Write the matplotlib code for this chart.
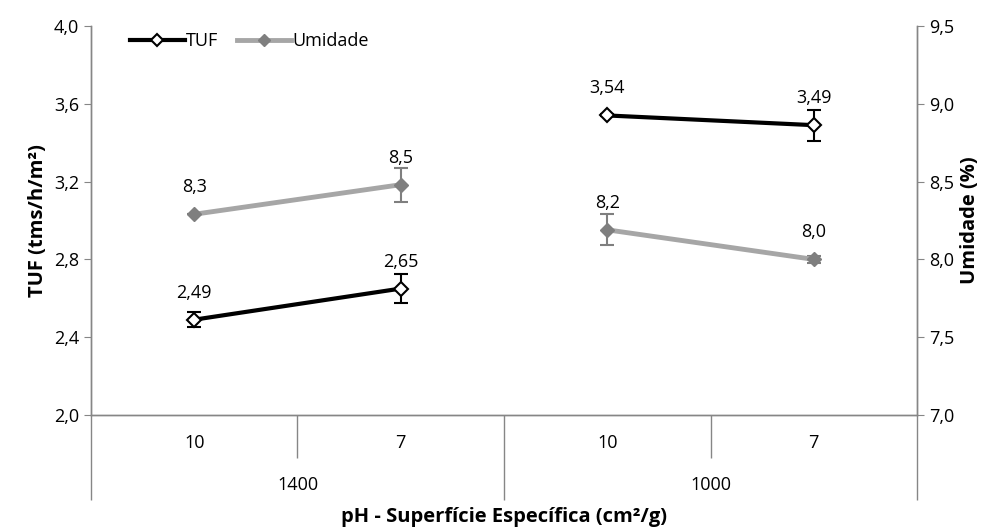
import matplotlib
matplotlib.use('Agg')
import matplotlib.pyplot as plt
from matplotlib.lines import Line2D
from matplotlib.ticker import FuncFormatter, FixedLocator
import matplotlib.transforms as mtransforms

# data
ph = ['10', '7', '10', '7']
superficie = ['1400', '1000']
tuf = [2.49, 2.65, 3.54, 3.49]
tuf_err = [0.04, 0.075, 0.005, 0.08]
umidade = [8.29, 8.48, 8.19, 8.00]
umidade_err = [0.0, 0.11, 0.10, 0.02]
tuf_labels = ['2,49', '2,65', '3,54', '3,49']
umidade_labels = ['8,3', '8,5', '8,2', '8,0']

plt.rcParams['font.family'] = ['Open Sans', 'DejaVu Sans']
fs = 13

grey = '#868686'
tuf_color = 'black'
umid_line = '#a6a6a6'
umid_mark = '#7f7f7f'

fig = plt.figure(figsize=(10.03, 5.29), dpi=100)
ax = fig.add_axes([0.0907, 0.2155, 0.8236, 0.7354])
ax2 = ax.twinx()

x = list(range(len(ph)))

def comma(v, pos):
    return f'{v:.1f}'.replace('.', ',')

# one segment per surface group
for g in range(len(superficie)):
    sl = slice(2 * g, 2 * g + 2)
    ax.errorbar(x[sl], tuf[sl], yerr=tuf_err[sl], color=tuf_color, lw=3,
                marker='D', ms=7.5, mfc='white', mec='black', mew=1.5,
                ecolor='black', elinewidth=1.5, capsize=5, capthick=1.5, zorder=3)
    ax2.errorbar(x[sl], umidade[sl], yerr=umidade_err[sl], color=umid_line, lw=3.5,
                 marker='D', ms=7.5, mfc=umid_mark, mec=umid_mark,
                 ecolor=umid_mark, elinewidth=1.5, capsize=5, capthick=1.5, zorder=3)

for xi, v, lab in zip(x, tuf, tuf_labels):
    ax.annotate(lab, (xi, v), xytext=(0, 13), textcoords='offset points',
                ha='center', va='bottom', fontsize=fs)
for xi, v, lab in zip(x, umidade, umidade_labels):
    ax2.annotate(lab, (xi, v), xytext=(0, 13), textcoords='offset points',
                 ha='center', va='bottom', fontsize=fs)

ax.set_ylim(2.0, 4.0)
ax.set_yticks([2.0, 2.4, 2.8, 3.2, 3.6, 4.0])
ax.yaxis.set_major_formatter(FuncFormatter(comma))
ax2.set_ylim(7.0, 9.5)
ax2.set_yticks([7.0, 7.5, 8.0, 8.5, 9.0, 9.5])
ax2.yaxis.set_major_formatter(FuncFormatter(comma))

ax.set_xlim(-0.5, len(ph) - 0.5)
# long separators between groups, short ones between pH categories
ax.xaxis.set_major_locator(FixedLocator([-0.5, 1.5, 3.5]))
ax.xaxis.set_minor_locator(FixedLocator([0.5, 2.5]))
ax.set_xticklabels(['', '', ''])
ax.tick_params(axis='x', which='major', length=61, width=1, color=grey, direction='out')
ax.tick_params(axis='x', which='minor', length=31, width=1, color=grey, direction='out')
trans = mtransforms.blended_transform_factory(ax.transData, ax.transAxes)
for xi, lab in zip(x, ph):
    ax.text(xi, -0.072, lab, transform=trans, ha='center', va='center', fontsize=fs)
for g, lab in enumerate(superficie):
    ax.text(2 * g + 0.5, -0.18, lab, transform=trans, ha='center', va='center', fontsize=fs)

ax.tick_params(axis='y', length=5, color=grey, direction='out', labelsize=fs)
ax2.tick_params(axis='y', length=5, color=grey, direction='out', labelsize=fs)

for a in (ax, ax2):
    a.spines['top'].set_visible(False)
    for s in ('left', 'right', 'bottom'):
        a.spines[s].set_color(grey)
        a.spines[s].set_linewidth(1)

ax.set_ylabel('TUF (tms/h/m²)', fontweight='bold', fontsize=14.5, labelpad=4)
ax2.set_ylabel('Umidade (%)', fontweight='bold', fontsize=14.5, labelpad=4)
fig.text(0.5023, 0.023, 'pH - Superfície Específica (cm²/g)', ha='center', va='center',
         fontweight='bold', fontsize=14.5)

handles = [
    Line2D([], [], color=tuf_color, lw=3, marker='D', ms=6, mfc='white', mec='black', mew=1.5),
    Line2D([], [], color=umid_line, lw=3.5, marker='D', ms=6, mfc=umid_mark, mec=umid_mark),
]
ax2.legend(handles, ['TUF', 'Umidade'], loc='upper left', bbox_to_anchor=(0.028, 1.025), ncol=2,
           frameon=False, handlelength=3.0, handletextpad=0.1, columnspacing=1.0,
           fontsize=fs)

fig.savefig('out.png', dpi=100)
